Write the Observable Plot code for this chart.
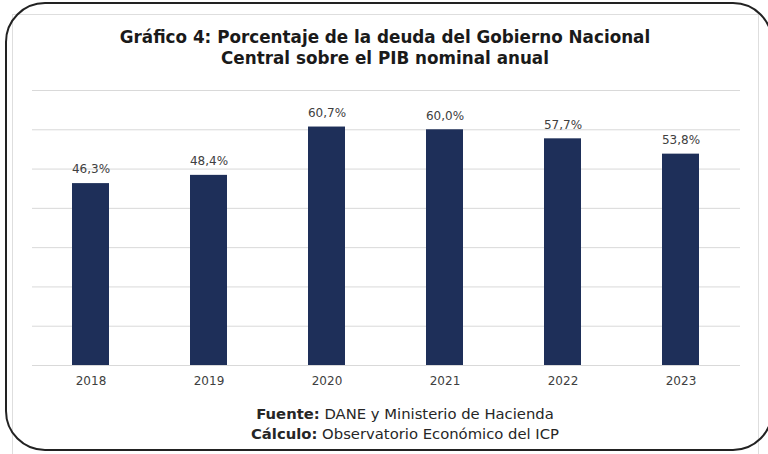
<!DOCTYPE html>
<html>
<head>
<meta charset="utf-8">
<script src="https://cdn.jsdelivr.net/npm/d3@7"></script>
<script src="https://cdn.jsdelivr.net/npm/@observablehq/plot@0.6"></script>
<style>
  html, body { margin: 0; padding: 0; background: #fff; }
  body { width: 768px; height: 454px; position: relative; overflow: hidden; font-family: "DejaVu Sans", sans-serif; }
  #outer { position: absolute; left: 5px; top: 2px; width: 768px; height: 449px; border: 2px solid #222; border-radius: 40px; box-sizing: border-box; }
  #inner { position: absolute; left: 12px; top: 14px; width: 747px; height: 460px; border: 1px solid #dedede; box-sizing: border-box; }
  #title { position: absolute; left: 0; width: 770px; top: 27px; text-align: center; font-weight: bold; font-size: 16.8px; line-height: 21px; color: #1a1a1a; }
  #caption { position: absolute; left: 0; width: 810px; top: 404px; text-align: center; font-size: 14.8px; line-height: 20px; color: #262626; }
  #chart { position: absolute; left: 0; top: 0; }
</style>
</head>
<body>
<div id="inner"></div>
<div id="outer"></div>
<div id="title">Gráfico 4: Porcentaje de la deuda del Gobierno Nacional<br>Central sobre el PIB nominal anual</div>
<div id="chart"></div>
<div id="caption"><b>Fuente:</b> DANE y Ministerio de Hacienda<br><b>Cálculo:</b> Observatorio Económico del ICP</div>
<script>
const years = ["2018", "2019", "2020", "2021", "2022", "2023"];
const values = [46.3, 48.4, 60.7, 60.0, 57.7, 53.8];
const labels = ["46,3%", "48,4%", "60,7%", "60,0%", "57,7%", "53,8%"];
const gridTicks = [0, 10, 20, 30, 40, 50, 60, 70];

const data = years.map((y, i) => ({year: y, value: values[i], label: labels[i]}));

const chart = Plot.plot({
  width: 768,
  height: 454,
  marginTop: 90,
  marginBottom: 89,
  marginLeft: 32,
  marginRight: 28,
  style: {background: "transparent", fontFamily: "DejaVu Sans, sans-serif"},
  x: {domain: years, paddingInner: 0.686, paddingOuter: 0.343, label: null},
  y: {domain: [0, 70], label: null},
  marks: [
    Plot.gridY(gridTicks, {stroke: "#d9d9d9", strokeOpacity: 1, strokeWidth: 1}),
    Plot.barY(data, {x: "year", y: "value", fill: "#1e2f59"}),
    Plot.text(data, {x: "year", y: "value", text: "label", dy: -14, fontSize: 12, fill: "#404040"}),
    Plot.axisX({tickSize: 0, tickPadding: 11, fontSize: 12, fill: "#404040"}),
    Plot.axisY({ticks: [], label: null})
  ]
});
document.getElementById("chart").appendChild(chart);
</script>
</body>
</html>
